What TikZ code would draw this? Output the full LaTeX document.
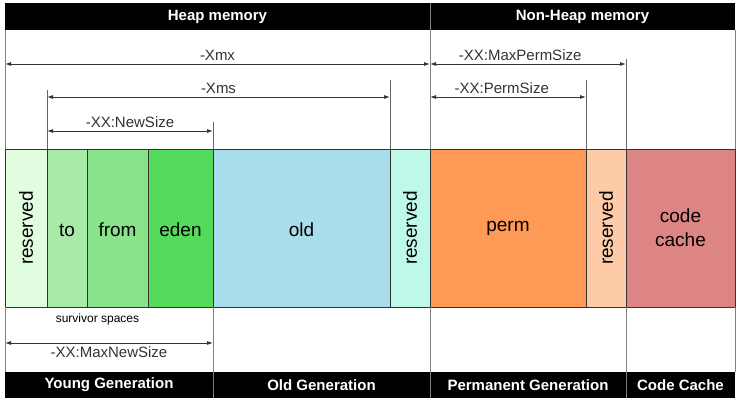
\documentclass[tikz,border=0pt]{standalone}
\usepackage{fontspec}
\setmainfont{Liberation Sans}
\usetikzlibrary{arrows.meta,calc,positioning}
\definecolor{resyoungc}{HTML}{E0FDE0}
\definecolor{toc}{HTML}{A8EAA8}
\definecolor{fromc}{HTML}{88E38A}
\definecolor{edenc}{HTML}{55DB5C}
\definecolor{oldc}{HTML}{AADDEB}
\definecolor{resoldc}{HTML}{BEF8E8}
\definecolor{permc}{HTML}{FE9A55}
\definecolor{respermc}{HTML}{FECBA8}
\definecolor{codec}{HTML}{DD8585}

\begin{document}
\begin{tikzpicture}[
  x=1pt,y=-1pt,
  font=\fontsize{15}{18}\selectfont,
  bar/.style={fill=black,text=white,font=\bfseries\fontsize{15}{18}\selectfont,minimum height=27pt,inner sep=0pt,outer sep=0pt,anchor=north west},
  cell/.style={draw=black!80,line width=.9pt,minimum height=158pt,inner sep=0pt,outer sep=0pt,anchor=north west,align=center,font=\fontsize{19}{24}\selectfont},
  word/.style={text height=17pt,text depth=0pt},
  dim/.style={{Latex[length=6pt,width=4pt]}-{Latex[length=6pt,width=4pt]},line width=.9pt,black!80},
  ext/.style={line width=.9pt,black!60},
  frame/.style={line width=.9pt,black!50}
]
\useasboundingbox (0,0) rectangle (740,403);

% header bars
\node[bar,minimum width=425pt] (heap) at (5,3) {Heap memory};
\node[bar,minimum width=305pt,right=0pt of heap] (nonheap) {Non-Heap memory};

% memory band
\node[cell,fill=resyoungc,minimum width=42pt] (resyoung) at (5,149) {\rotatebox{90}{reserved}};
\node[cell,word,fill=toc,minimum width=40pt,right=0pt of resyoung] (to) {to};
\node[cell,word,fill=fromc,minimum width=61pt,right=0pt of to] (from) {from};
\node[cell,word,fill=edenc,minimum width=65pt,right=0pt of from] (eden) {eden};
\node[cell,word,fill=oldc,minimum width=177pt,right=0pt of eden] (old) {old};
\node[cell,fill=resoldc,minimum width=40pt,right=0pt of old] (resold) {\rotatebox{90}{reserved}};
\node[cell,text height=13pt,text depth=5pt,fill=permc,minimum width=156pt,right=0pt of resold] (perm) {perm};
\node[cell,fill=respermc,minimum width=40pt,right=0pt of perm] (resperm) {\rotatebox{90}{reserved}};
\node[cell,fill=codec,minimum width=109pt,right=0pt of resperm] (code) {code\\cache};

% footer bars
\node[bar,minimum height=26pt,minimum width=208pt] (younggen) at (5,372) {Young Generation};
\node[bar,minimum height=26pt,minimum width=217pt,right=0pt of younggen] (oldgen) {Old Generation};
\node[bar,minimum height=26pt,minimum width=196pt,right=0pt of oldgen] (permgen) {Permanent Generation};
\node[bar,minimum height=26pt,minimum width=109pt,right=0pt of permgen] (codegen) {Code Cache};

% frame and dividers
\draw[frame] (heap.north east) -- (heap.south east);
\draw[frame] (younggen.north east) -- (younggen.south east);
\draw[frame] (oldgen.north east) -- (oldgen.south east);
\draw[frame] (permgen.north east) -- (permgen.south east);
\draw[frame] (heap.south west) -- (resyoung.north west) (resyoung.south west) -- (younggen.north west);
\draw[frame] (nonheap.south east) -- (code.north east) (code.south east) -- (codegen.north east);
\draw[frame] (heap.south east) -- (perm.north west) (perm.south west) -- (oldgen.north east);
\draw[frame] (eden.south east) -- (younggen.north east);
\draw[frame] (code.south west) -- (codegen.north west);

% extension lines
\draw[ext] (to.north west) -- ++(0,-59);
\draw[ext] (resold.north west) -- ++(0,-69);
\draw[ext] (old.north west) -- ++(0,-27);
\draw[ext] (resperm.north west) -- ++(0,-69);
\draw[ext] (code.north west) -- ++(0,-90);

% sizes
\draw[dim] (resyoung.north west |- 0,64) -- node[above=0pt]{-Xmx} (perm.north west |- 0,64);
\draw[dim] (to.north west |- 0,97) -- node[above=0pt]{-Xms} (resold.north west |- 0,97);
\draw[dim] (to.north west |- 0,131) -- node[above=0pt]{-XX:NewSize} (old.north west |- 0,131);
\draw[dim] (perm.north west |- 0,64) -- node[above=0pt,pos=.46]{-XX:MaxPermSize} (code.north west |- 0,64);
\draw[dim] (perm.north west |- 0,97) -- node[above=0pt,pos=.46]{-XX:PermSize} (resperm.north west |- 0,97);
\draw[dim] (resyoung.south west |- 0,343) -- node[below=0pt]{-XX:MaxNewSize} (old.south west |- 0,343);
\node[font=\fontsize{12}{14}\selectfont,below=3pt] (survivor) at ($(to.south west)!.5!(from.south east)$) {survivor spaces};
\end{tikzpicture}
\end{document}
